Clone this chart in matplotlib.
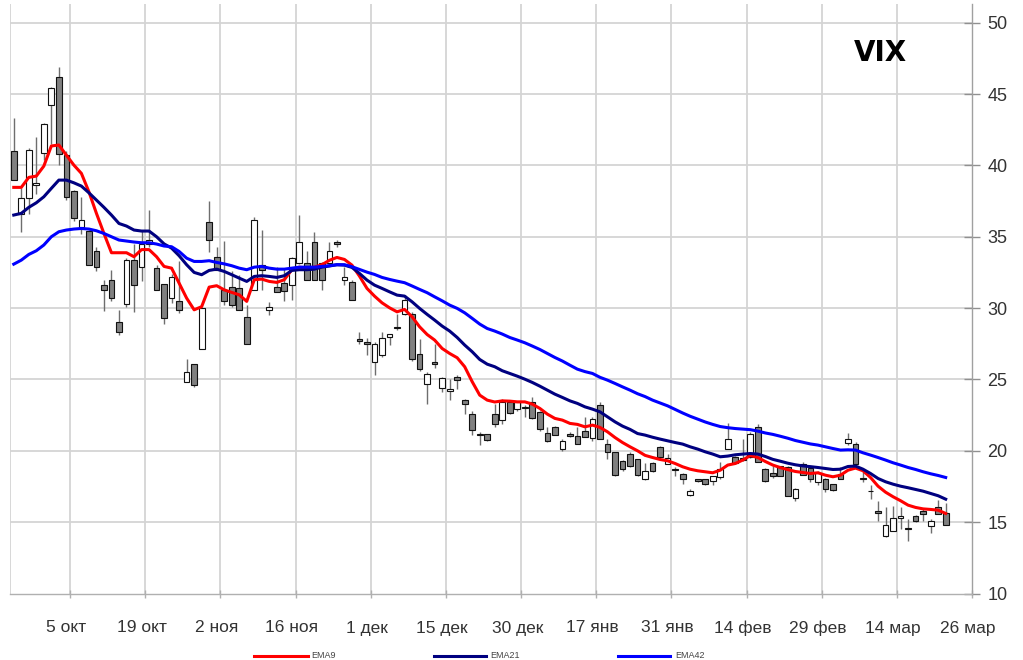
import numpy as np
import matplotlib
matplotlib.use("Agg")
import matplotlib.pyplot as plt

# ---------------- data ----------------
opens = [41.0, 36.6, 37.7, 38.6, 40.9, 44.2, 46.2, 40.7, 38.2, 35.7,
         35.4, 34.0, 31.6, 32.0, 29.0, 30.3, 33.4, 32.9, 34.5, 32.8,
         31.7, 30.7, 30.5, 24.8, 26.1, 27.1, 36.05, 33.55, 31.3, 31.5,
         31.4, 29.4, 31.3, 33.0, 29.9, 31.45, 31.75, 31.6, 33.15, 33.15,
         34.6, 33.15, 33.15, 34.65, 32.0, 31.8, 27.8, 27.65, 26.25, 26.7,
         27.95, 28.7, 29.6, 29.6, 26.8, 24.7, 26.2, 24.4, 24.2, 25.15,
         23.55, 22.55, 21.15, 21.15, 22.6, 22.15, 23.45, 22.9, 23.0, 23.45,
         22.75, 21.25, 21.7, 20.1, 21.2, 21.05, 21.4, 20.9, 23.2, 20.5,
         19.9, 19.3, 19.75, 19.4, 18.0, 19.15, 20.3, 19.1, 18.7, 18.4,
         16.9, 18.0, 18.0, 17.85, 18.15, 20.15, 19.6, 19.35, 19.55, 21.65,
         18.75, 18.45, 18.9, 18.85, 16.7, 19.1, 18.8, 17.8, 18.05, 17.65,
         18.35, 20.55, 20.45, 18.1, 17.2, 15.8, 14.0, 14.4, 15.3, 14.55,
         15.4, 15.8, 14.7, 16.05, 15.65]
highs = [43.3, 38.4, 41.2, 42.0, 43.0, 45.5, 46.9, 41.0, 38.3, 37.8,
         35.5, 34.25, 32.0, 32.7, 29.9, 33.5, 34.5, 35.4, 36.9, 33.0,
         31.7, 32.4, 33.3, 26.45, 26.1, 30.0, 37.5, 34.3, 34.7, 32.6,
         32.3, 30.2, 36.4, 35.5, 30.45, 32.9, 32.8, 33.6, 36.5, 34.0,
         35.3, 33.2, 34.6, 34.75, 32.9, 32.0, 28.3, 27.9, 27.6, 28.3,
         28.2, 29.6, 30.9, 29.7, 27.8, 25.5, 27.5, 25.2, 25.0, 25.3,
         23.6, 22.8, 21.3, 21.2, 23.3, 23.6, 23.5, 23.45, 23.2, 23.8,
         22.8, 21.7, 21.75, 20.8, 21.3, 21.7, 22.4, 22.4, 23.45, 20.85,
         19.95, 19.35, 19.9, 19.45, 19.15, 19.2, 20.35, 19.8, 18.85, 18.45,
         17.35, 18.05, 18.05, 18.2, 19.2, 21.95, 19.65, 20.8, 21.3, 21.85,
         18.8, 18.9, 18.95, 18.9, 17.4, 19.2, 18.9, 18.6, 18.1, 17.7,
         18.85, 21.25, 20.6, 18.5, 17.6, 16.5, 16.05, 16.15, 16.05, 15.25,
         15.5, 15.9, 15.25, 16.55, 16.35]
lows = [39.0, 35.35, 36.6, 38.0, 40.4, 41.5, 40.0, 37.6, 36.1, 35.2,
        33.0, 32.6, 29.8, 30.5, 28.1, 30.1, 29.7, 31.9, 34.3, 31.3,
        28.9, 30.35, 29.65, 24.8, 24.5, 27.1, 33.9, 32.7, 30.2, 30.1,
        29.9, 27.5, 31.3, 31.3, 29.5, 31.1, 30.5, 30.6, 33.1, 32.0,
        32.0, 31.3, 33.1, 34.3, 31.6, 30.6, 27.5, 26.7, 25.3, 26.6,
        27.4, 28.5, 29.5, 26.3, 25.6, 23.3, 25.8, 24.1, 23.55, 24.3,
        22.6, 21.1, 20.4, 20.7, 21.7, 21.9, 22.6, 22.8, 22.4, 22.2,
        21.4, 20.6, 21.1, 20.0, 21.0, 20.5, 20.95, 20.7, 20.85, 19.45,
        18.2, 18.6, 18.85, 18.2, 17.95, 18.5, 19.55, 19.05, 18.2, 17.7,
        16.85, 17.8, 17.6, 17.6, 18.0, 20.15, 19.1, 19.3, 19.5, 19.2,
        17.8, 18.1, 18.2, 16.8, 16.5, 18.3, 17.8, 17.6, 17.1, 17.2,
        18.0, 20.4, 19.1, 17.8, 16.65, 15.1, 13.95, 14.4, 14.55, 13.7,
        15.0, 15.1, 14.25, 15.55, 14.8]
closes = [39.0, 37.7, 41.1, 38.8, 42.9, 45.4, 40.8, 37.8, 36.3, 36.2,
          33.0, 32.85, 31.3, 30.7, 28.3, 33.4, 31.6, 34.5, 34.8, 31.3,
          29.3, 32.2, 29.9, 25.5, 24.6, 30.0, 34.8, 32.7, 30.5, 30.2,
          29.9, 27.5, 36.2, 32.7, 30.1, 31.1, 31.2, 33.5, 34.6, 32.0,
          32.0, 32.0, 34.0, 34.5, 32.15, 30.6, 27.7, 27.5, 27.5, 27.9,
          28.15, 28.6, 30.6, 26.4, 25.7, 25.4, 26.05, 25.1, 24.3, 24.95,
          23.25, 21.45, 21.1, 20.75, 21.9, 23.45, 22.65, 23.4, 23.05, 22.3,
          21.5, 20.7, 21.1, 20.7, 21.05, 20.5, 20.95, 22.25, 20.85, 19.9,
          18.3, 18.7, 18.9, 18.3, 18.55, 18.55, 19.55, 19.5, 18.65, 18.0,
          17.15, 17.85, 17.7, 18.2, 18.7, 20.8, 19.15, 19.5, 21.15, 19.2,
          17.85, 18.2, 18.2, 16.8, 17.3, 18.3, 18.0, 18.45, 17.3, 17.25,
          18.05, 20.85, 19.1, 18.0, 17.15, 15.65, 14.8, 15.3, 15.4, 14.5,
          15.05, 15.6, 15.1, 15.6, 14.8]

ema9 = [38.46, 38.46, 39.16, 39.25, 39.95, 41.36, 41.43, 40.72, 40.02, 39.44,
        38.15, 36.64, 35.23, 33.88, 33.88, 33.88, 33.6, 34.1, 34.1, 33.6,
        32.92, 32.8, 31.75, 30.7, 29.88, 30.1, 31.47, 31.57, 31.28, 31.1,
        30.93, 30.47, 31.99, 32.03, 31.87, 31.8, 31.99, 32.69, 32.87, 32.8,
        32.87, 33.04, 33.35, 33.55, 33.41, 33.01, 32.24, 31.38, 30.84, 30.37,
        30.02, 29.74, 29.91, 29.39, 28.69, 28.15, 27.76, 27.17, 26.82, 26.52,
        25.89, 24.84, 23.9, 23.55, 23.42, 23.5, 23.48, 23.43, 23.43, 23.27,
        22.97, 22.57, 22.27, 22.15, 21.92, 21.85, 21.68, 21.8, 21.64, 21.33,
        20.93, 20.58, 20.28, 20.0, 19.68, 19.53, 19.39, 19.3, 19.11, 18.88,
        18.71, 18.6, 18.53, 18.46, 18.64, 19.0, 19.11, 19.35, 19.67, 19.53,
        19.25, 19.0, 18.82, 18.68, 18.55, 18.48, 18.41, 18.46, 18.29, 18.18,
        18.29, 18.64, 18.79, 18.6, 18.13, 17.52, 17.1, 16.78, 16.5, 16.19,
        16.03, 15.93, 15.89, 15.84, 15.61]
ema21 = [36.52, 36.64, 37.06, 37.38, 37.8, 38.39, 38.97, 38.97, 38.78, 38.55,
         38.08, 37.57, 37.06, 36.52, 35.93, 35.75, 35.47, 35.4, 35.4, 35.0,
         34.5, 34.2, 33.67, 33.04, 32.5, 32.34, 32.64, 32.73, 32.57, 32.34,
         32.1, 31.87, 32.22, 32.27, 32.22, 32.15, 32.27, 32.64, 32.69, 32.69,
         32.73, 32.87, 32.95, 33.04, 33.01, 32.85, 32.43, 31.96, 31.61, 31.38,
         31.14, 30.91, 30.84, 30.44, 29.98, 29.56, 29.16, 28.74, 28.39, 27.94,
         27.41, 26.94, 26.4, 26.07, 25.89, 25.61, 25.42, 25.23, 25.02, 24.79,
         24.53, 24.25, 23.97, 23.74, 23.5, 23.32, 23.08, 22.92, 22.73, 22.38,
         22.03, 21.73, 21.5, 21.21, 21.1, 20.95, 20.82, 20.7, 20.58, 20.47,
         20.28, 20.12, 19.93, 19.77, 19.58, 19.63, 19.72, 19.77, 19.81, 19.77,
         19.6, 19.4, 19.27, 19.13, 19.02, 18.94, 18.89, 18.83, 18.76, 18.69,
         18.71, 18.9, 18.93, 18.71, 18.41, 18.06, 17.83, 17.66, 17.52, 17.41,
         17.29, 17.17, 17.01, 16.85, 16.61]
ema42 = [33.08, 33.36, 33.76, 34.02, 34.42, 35.0, 35.35, 35.47, 35.54, 35.58,
         35.54, 35.42, 35.23, 35.0, 34.77, 34.7, 34.63, 34.58, 34.58, 34.49,
         34.35, 34.3, 33.97, 33.5, 33.27, 33.27, 33.32, 33.2, 33.1, 32.97,
         32.8, 32.69, 32.87, 32.92, 32.8, 32.73, 32.73, 32.8, 32.87, 32.87,
         32.87, 32.92, 32.97, 33.04, 33.04, 32.9, 32.71, 32.52, 32.36, 32.15,
         32.01, 31.89, 31.78, 31.55, 31.31, 31.08, 30.79, 30.51, 30.21, 29.98,
         29.67, 29.28, 28.88, 28.57, 28.39, 28.18, 27.94, 27.76, 27.57, 27.34,
         27.1, 26.82, 26.54, 26.29, 26.0, 25.72, 25.55, 25.42, 25.15, 24.95,
         24.72, 24.48, 24.25, 24.0, 23.8, 23.55, 23.35, 23.15, 22.9, 22.65,
         22.42, 22.22, 22.02, 21.85, 21.7, 21.62, 21.56, 21.52, 21.48, 21.38,
         21.25, 21.15, 21.02, 20.88, 20.72, 20.6, 20.48, 20.4, 20.28, 20.16,
         20.05, 20.07, 20.05, 19.86, 19.7, 19.53, 19.35, 19.16, 19.0, 18.83,
         18.69, 18.53, 18.39, 18.27, 18.13]

n_categories = 128          # axis holds 128 trading-day slots (last 3 empty)
tick_labels = ["5 окт", "19 окт", "2 ноя", "16 ноя", "1 дек", "15 дек", "30 дек",
               "17 янв", "31 янв", "14 фев", "29 фев", "14 мар", "26 мар"]
tick_cats = [7, 17, 27, 37, 47, 57, 67, 77, 87, 97, 107, 117, 127]
y_ticks = [10, 15, 20, 25, 30, 35, 40, 45, 50]
series_names = ["EMA9", "EMA21", "EMA42"]
series_colors = ["#ff0000", "#000080", "#0000ff"]

# ---------------- figure ----------------
W, H = 1023, 660
fig = plt.figure(figsize=(W / 100, H / 100), dpi=100)
fig.patch.set_facecolor("white")

left_px, right_px = 10, 972
bottom_px, top_px = 593.5, 4.0
ax = fig.add_axes([left_px / W, (H - bottom_px) / H,
                   (right_px - left_px) / W, (bottom_px - top_px) / H])
ymin, ymax = 10, 50 + (22.7 - top_px) / 14.27
ax.set_xlim(-0.5, n_categories - 0.5)
ax.set_ylim(ymin, ymax)

grid_col = "#d4d4d4"
for yv in y_ticks[1:]:
    ax.axhline(yv, color=grid_col, lw=1.3, zorder=0)
for c in [-0.5] + [tc + 0.5 for tc in tick_cats[:-1]]:
    ax.axvline(c, color=grid_col, lw=1.3, zorder=0)

# candles
x = np.arange(len(closes))
o = np.array(opens); c_ = np.array(closes)
hi = np.array(highs); lo = np.array(lows)
ax.vlines(x, lo, hi, color="#6e6e6e", lw=1.0, zorder=2)
body_low = np.minimum(o, c_)
body_h = np.maximum(np.abs(c_ - o), 0.06)
face = ["#808080" if cc < oo else "white" for oo, cc in zip(o, c_)]
ax.bar(x, body_h, bottom=body_low, width=0.76, color=face,
       edgecolor="#111111", linewidth=0.8, zorder=3)

# EMA lines
for vals, col in zip([ema9, ema21, ema42], series_colors):
    ax.plot(x, vals, color=col, lw=2.2, zorder=4, solid_joinstyle="round")

# axes styling
for s in ["left", "top"]:
    ax.spines[s].set_visible(False)
ax.spines["right"].set_color("#a0a0a0")
ax.spines["right"].set_linewidth(1.0)
ax.spines["bottom"].set_color("#b0b0b0")
ax.spines["bottom"].set_linewidth(1.0)

label_font = ["Liberation Sans", "DejaVu Sans"]
ax.yaxis.tick_right()
ax.set_yticks(y_ticks)
ax.set_yticklabels([str(v) for v in y_ticks], fontsize=13,
                   color="#333333", family=label_font)
ax.tick_params(axis="y", direction="inout", length=12, width=1.0,
               color="#909090", pad=5)

ax.set_xticks([tc + 0.5 for tc in tick_cats])
ax.set_xticklabels([])
ax.tick_params(axis="x", direction="inout", length=6, width=1.0, color="#b0b0b0")
xt = ax.get_xaxis_transform()
label_y = -(628 - bottom_px) / (bottom_px - top_px)
for tc, lab in zip(tick_cats, tick_labels):
    ax.text(tc, label_y, lab, transform=xt, ha="center", va="center",
            fontsize=12.5, color="#333333", family=label_font)

# title text
ax.text(0.9045, (bottom_px - 53) / (bottom_px - top_px), "VIX", transform=ax.transAxes,
        ha="center", va="center", fontsize=20, color="black",
        family=["DejaVu Sans"], fontweight="bold")

# legend
leg_y = 1 - 656 / H
leg_items = [(254, 308, 311), (434, 486, 490), (618, 670, 675)]
for (x0, x1, xt_), name, col in zip(leg_items, series_names, series_colors):
    fig.add_artist(plt.Line2D([x0 / W, x1 / W], [leg_y, leg_y], color=col, lw=2.2,
                              transform=fig.transFigure))
    fig.text(xt_ / W, leg_y, name, ha="left", va="center", fontsize=6.5,
             color="#444444", family=label_font)

fig.savefig("out.png", dpi=100)
